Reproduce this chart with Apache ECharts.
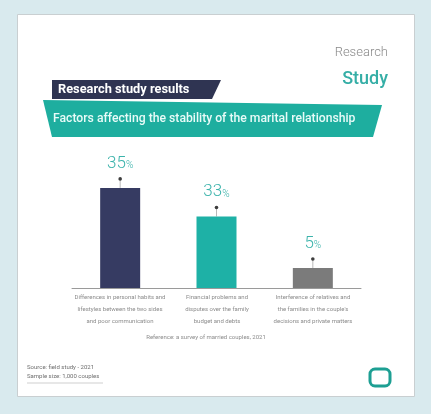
<!DOCTYPE html>
<html>
<head>
<meta charset="utf-8">
<script src="https://cdn.jsdelivr.net/npm/echarts@6/dist/echarts.min.js"></script>
<style>
  html, body { margin: 0; padding: 0; background: #d9eaee; }
  #chart { width: 431px; height: 414px; }
</style>
</head>
<body>
<div id="chart"></div>
<script>
// data
var categories = ['habits', 'finance', 'family'];
var barHeights = [35, 25, 7];
var valueLabels = ['35', '33', '5'];
var categoryLines = [
  ['Differences in personal habits and', 'lifestyles between the two sides', 'and poor communication'],
  ['Financial problems and', 'disputes over the family', 'budget and debts'],
  ['Interference of relatives and', 'the families in the couple\'s', 'decisions and private matters']
];
var barColors = ['#363b62', '#1eb1a6', '#7b7b7b'];

var chart = echarts.init(document.getElementById('chart'));

// small centred gray text blocks under the bars
function descText(x, lines) {
  return {
    type: 'text', x: x, y: 291,
    style: { text: lines.join('\n'), fill: '#8c8c8c', font: '6px Roboto', textAlign: 'center', lineHeight: 12 }
  };
}

chart.setOption({
  backgroundColor: '#d9eaee',
  animation: false,
  grid: { left: 72, right: 70, top: 145, bottom: 126 },
  xAxis: {
    type: 'category',
    data: categories,
    axisLine: { lineStyle: { color: '#9a9a9a', width: 1 } },
    axisTick: { show: false },
    axisLabel: { show: false }
  },
  yAxis: {
    type: 'value',
    min: 0,
    max: 50,
    show: false,
    splitLine: { show: false }
  },
  graphic: [
    // card
    { type: 'rect', z: -10, shape: { x: 17.5, y: 14.5, width: 397, height: 382 },
      style: { fill: '#ffffff', stroke: '#c9cfd1', lineWidth: 1 } },
    // header words
    { type: 'text', x: 388, y: 46,
      style: { text: 'Research', fill: '#8a8a8a', font: '300 13px Roboto', textAlign: 'right' } },
    { type: 'text', x: 388, y: 70,
      style: { text: 'Study', fill: '#35aea6', font: '500 18px Roboto', textAlign: 'right' } },
    // teal banner
    { type: 'polygon', z: 1, shape: { points: [[43, 100], [382, 105], [373, 137], [52, 137]] },
      style: { fill: '#1eae9f' } },
    { type: 'text', z: 3, x: 53, y: 113,
      style: { text: 'Factors affecting the stability of the marital relationship', fill: '#e8fbf8', font: '500 12.2px Roboto' } },
    // navy banner
    { type: 'polygon', z: 2, shape: { points: [[52, 80], [221, 80], [212, 99], [52, 99]] },
      style: { fill: '#2f3452' } },
    { type: 'text', z: 3, x: 58, y: 83,
      style: { text: 'Research study results', fill: '#ffffff', font: 'bold 12.8px Roboto' } },
    // category descriptions
    descText(120, categoryLines[0]),
    descText(217, categoryLines[1]),
    descText(313, categoryLines[2]),
    { type: 'text', x: 206, y: 334,
      style: { text: 'Reference: a survey of married couples, 2021', fill: '#8c8c8c', font: '6px Roboto', textAlign: 'center' } },
    // footer left
    { type: 'text', x: 27, y: 364,
      style: { text: 'Source: field study - 2021', fill: '#6f6f6f', font: '6px Roboto' } },
    { type: 'text', x: 27, y: 373,
      style: { text: 'Sample size: 1,000 couples', fill: '#6f6f6f', font: '6px Roboto' } },
    { type: 'line', shape: { x1: 27, y1: 383, x2: 103, y2: 383 },
      style: { stroke: '#cfcfcf', lineWidth: 1 } },
    // footer icon
    { type: 'rect', shape: { x: 370, y: 369, width: 20, height: 17, r: 5 },
      style: { fill: 'none', stroke: '#1d9f93', lineWidth: 3 } }
  ],
  series: [
    {
      type: 'bar',
      barWidth: 40,
      data: barHeights.map(function (v, i) {
        return { value: v, itemStyle: { color: barColors[i] } };
      })
    },
    {
      type: 'custom',
      data: barHeights.map(function (v, i) { return [i, v]; }),
      z: 5,
      renderItem: function (params, api) {
        var p = api.coord([api.value(0), api.value(1)]);
        var i = params.dataIndex;
        return {
          type: 'group',
          children: [
            { type: 'line', shape: { x1: p[0], y1: p[1], x2: p[0], y2: p[1] - 9 },
              style: { stroke: '#8a8a8a', lineWidth: 0.6 } },
            { type: 'circle', shape: { cx: p[0], cy: p[1] - 9, r: 1.8 },
              style: { fill: '#3d3d3d' } },
            { type: 'text', x: p[0], y: p[1] - 16,
              style: {
                text: '{n|' + valueLabels[i] + '}{p|%}',
                textAlign: 'center', textVerticalAlign: 'bottom',
                rich: {
                  n: { fill: '#3bb3ab', font: '300 17px Roboto' },
                  p: { fill: '#3bb3ab', font: '300 10px Roboto', padding: [4, 0, 0, 0] }
                }
              } }
          ]
        };
      }
    }
  ]
});
</script>
</body>
</html>
